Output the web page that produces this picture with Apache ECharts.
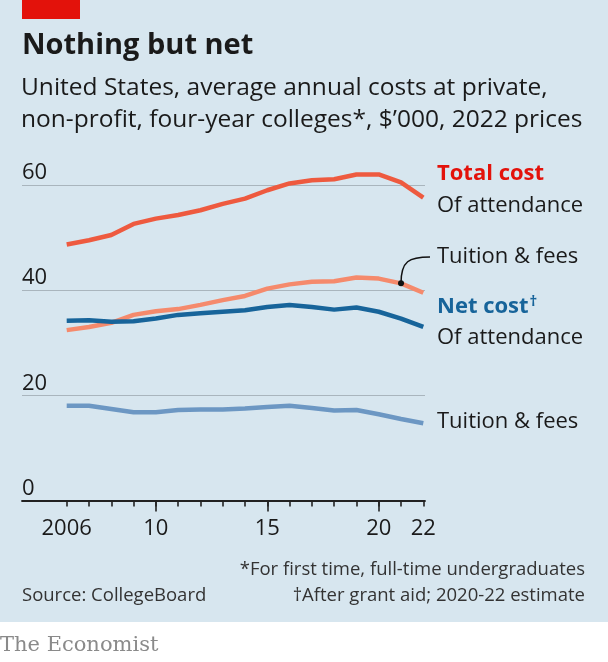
<!DOCTYPE html>
<html>
<head>
<meta charset="utf-8">
<script src="https://cdn.jsdelivr.net/npm/echarts@6/dist/echarts.min.js"></script>
<style>
  html, body { margin: 0; padding: 0; background: #d7e6ef; }
  #chart { width: 608px; height: 662px; }
</style>
</head>
<body>
<div id="chart"></div>
<script>
const years = [2006, 2007, 2008, 2009, 2010, 2011, 2012, 2013, 2014, 2015, 2016, 2017, 2018, 2019, 2020, 2021, 2022];
const totalCost = [48.7, 49.5, 50.5, 52.6, 53.6, 54.3, 55.2, 56.4, 57.4, 59.0, 60.3, 60.9, 61.1, 62.0, 62.0, 60.5, 57.6];
const tuitionFees = [32.4, 33.0, 33.8, 35.3, 36.0, 36.4, 37.2, 38.1, 38.9, 40.3, 41.1, 41.6, 41.7, 42.4, 42.2, 41.3, 39.5];
const netCost = [34.2, 34.3, 34.0, 34.1, 34.6, 35.3, 35.6, 35.9, 36.2, 36.8, 37.2, 36.8, 36.3, 36.7, 35.9, 34.6, 33.0];
const netTuition = [18.0, 18.0, 17.4, 16.8, 16.8, 17.2, 17.3, 17.3, 17.5, 17.8, 18.0, 17.6, 17.1, 17.2, 16.4, 15.5, 14.7];
const yTicks = [0, 20, 40, 60];
const xLabelYears = [2006, 2010, 2015, 2020, 2022];
const xLongTickYears = [2010, 2015, 2020];

const FONT = '"Open Sans", sans-serif';
const TEXT = '#1a1a1a';

const chart = echarts.init(document.getElementById('chart'));

const pairs = arr => years.map((y, i) => [y, arr[i]]);

function lineSeries(name, data, color) {
  return {
    name,
    type: 'line',
    xAxisIndex: 1,
    yAxisIndex: 1,
    data: pairs(data),
    showSymbol: false,
    clip: false,
    lineStyle: { color, width: 4.5, cap: 'butt', join: 'round' },
    itemStyle: { color },
    z: 3
  };
}

const option = {
  backgroundColor: '#d7e6ef',
  animation: false,
  grid: [
    { left: 22, right: 183, top: 185, bottom: 161.5 },
    { left: 66.7, right: 184.7, top: 185, bottom: 161.5 }
  ],
  xAxis: [
    {
      gridIndex: 0,
      type: 'value',
      min: 0, max: 1,
      axisLine: { show: true, lineStyle: { color: '#222', width: 1.8 } },
      axisTick: { show: false },
      axisLabel: { show: false },
      splitLine: { show: false }
    },
    {
      gridIndex: 1,
      type: 'value',
      position: 'bottom',
      offset: 0,
      min: 2006, max: 2022, interval: 1,
      axisLine: { show: false },
      axisTick: { show: true, length: 6, lineStyle: { color: '#222', width: 1.6 } },
      axisLabel: {
        color: TEXT, fontFamily: FONT, fontSize: 22, margin: 17,
        formatter: v => xLabelYears.includes(v) ? (v === 2006 ? '2006' : String(v).slice(2)) : ''
      },
      splitLine: { show: false }
    },
    {
      gridIndex: 1,
      type: 'category',
      position: 'bottom',
      offset: 0,
      boundaryGap: false,
      data: years.map(String),
      axisLine: { show: false },
      axisTick: {
        show: true, length: 11, lineStyle: { color: '#222', width: 1.6 },
        interval: (i, v) => xLongTickYears.includes(Number(v))
      },
      axisLabel: { show: false },
      splitLine: { show: false }
    }
  ],
  yAxis: [
    {
      gridIndex: 0,
      type: 'value',
      min: 0, max: 60, interval: 20,
      axisLine: { show: false },
      axisTick: { show: false },
      axisLabel: {
        inside: true, margin: 0, align: 'left', verticalAlign: 'bottom',
        padding: [0, 0, 1, 0],
        color: TEXT, fontFamily: FONT, fontSize: 22,
        formatter: v => yTicks.includes(v) ? String(v) : ''
      },
      splitLine: { show: true, lineStyle: { color: '#a9b5bd', width: 1.2 } }
    },
    {
      gridIndex: 1,
      type: 'value',
      min: 0, max: 60, interval: 20,
      show: false
    }
  ],
  series: [
    lineSeries('Tuition & fees (net)', netTuition, '#6c97c3'),
    lineSeries('Tuition & fees', tuitionFees, '#f58a6c'),
    lineSeries('Net cost', netCost, '#17649a'),
    lineSeries('Total cost', totalCost, '#ee5a3f')
  ],
  graphic: []
};

chart.setOption(option);

// annotation from the tuition line in 2021 to its label
const dot = chart.convertToPixel({ xAxisIndex: 1, yAxisIndex: 1 }, [2021, tuitionFees[15]]);
const endX = 430, endY = 257;

const txt = (x, y, text, extra) => ({
  type: 'text', x, y, silent: true,
  style: Object.assign({
    text, fill: TEXT, font: '22px ' + FONT, textVerticalAlign: 'middle'
  }, extra || {})
});

chart.setOption({
  graphic: [
    { type: 'rect', shape: { x: 22, y: 0, width: 58, height: 19 }, style: { fill: '#e3120b' } },
    txt(22, 46, 'Nothing but net', { font: 'bold 29px ' + FONT }),
    txt(21, 88, 'United States, average annual costs at private,', { font: '24.5px ' + FONT }),
    txt(21, 120, 'non-profit, four-year colleges*, $\u2019000, 2022 prices', { font: '24.5px ' + FONT }),
    txt(437, 174, 'Total cost', { font: 'bold 22px ' + FONT, fill: '#e3120b' }),
    txt(437, 206, 'Of attendance'),
    txt(437, 257, 'Tuition & fees'),
    {
      type: 'text', x: 437, y: 307, silent: true,
      style: {
        text: '{a|Net cost}{b|\u2020}',
        textVerticalAlign: 'middle',
        rich: {
          a: { font: 'bold 22px ' + FONT, fill: '#17649a', color: '#17649a' },
          b: { font: 'bold 15px ' + FONT, fill: '#17649a', color: '#17649a', verticalAlign: 'top', padding: [0, 0, 10, 1] }
        }
      }
    },
    txt(437, 338, 'Of attendance'),
    txt(437, 422, 'Tuition & fees'),
    {
      type: 'bezierCurve', silent: true,
      shape: {
        x1: dot[0], y1: dot[1],
        cpx1: dot[0], cpy1: endY + 4,
        cpx2: dot[0] + 8, cpy2: endY,
        x2: endX, y2: endY
      },
      style: { stroke: '#111', lineWidth: 1.5, fill: null },
      z: 10
    },
    { type: 'circle', silent: true, shape: { cx: dot[0], cy: dot[1], r: 3 }, style: { fill: '#111' }, z: 11 },
    txt(585, 570, '*For first time, full-time undergraduates', { font: '18.5px ' + FONT, textAlign: 'right', fill: '#333' }),
    txt(22, 596, 'Source: CollegeBoard', { font: '18.5px ' + FONT, fill: '#333' }),
    txt(585, 596, '\u2020After grant aid; 2020-22 estimate', { font: '18.5px ' + FONT, textAlign: 'right', fill: '#333' }),
    { type: 'rect', silent: true, shape: { x: 0, y: 622, width: 608, height: 40 }, style: { fill: '#ffffff' } },
    txt(0, 646, 'The Economist', { font: '21px "DejaVu Serif", "Liberation Serif", serif', fill: '#8a8a8a' })
  ]
});
</script>
</body>
</html>
